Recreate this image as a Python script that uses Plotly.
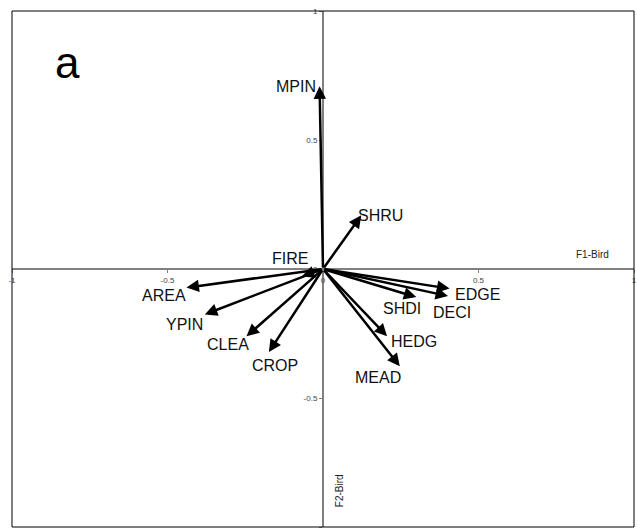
import plotly.graph_objects as go

# variable loadings on the first two factorial axes (bird data)
variables = ["MPIN", "SHRU", "FIRE", "AREA", "YPIN", "CLEA", "CROP",
             "EDGE", "DECI", "SHDI", "HEDG", "MEAD"]
f1 = [-0.011, 0.123, -0.068, -0.439, -0.380, -0.246, -0.174,
      0.407, 0.402, 0.300, 0.206, 0.247]
f2 = [0.708, 0.208, -0.028, -0.072, -0.176, -0.261, -0.322,
      -0.076, -0.105, -0.109, -0.261, -0.377]

tick_vals = [-1, -0.5, 0, 0.5, 1]
tick_text = ["-1", "-0.5", "0", "0.5", "1"]

# label offsets from arrow tips, in pixels (dx, dy up)
label_shift = {
    "MPIN": (-24, 0), "SHRU": (19, 0), "FIRE": (-12, 18), "AREA": (-22, -8),
    "YPIN": (-20, -10), "CLEA": (-18, -8), "CROP": (6, -13), "EDGE": (28, -6),
    "DECI": (4, -16), "SHDI": (-14, -11), "HEDG": (27, -5), "MEAD": (-22, -11),
}

FONT = "Liberation Sans, Arial, sans-serif"

fig = go.Figure()
# invisible trace so the axes get drawn
fig.add_trace(go.Scatter(x=[0], y=[0], mode="markers",
                         marker=dict(size=1, color="rgba(0,0,0,0)"),
                         showlegend=False, hoverinfo="skip"))

annotations = []
for name, x, y in zip(variables, f1, f2):
    annotations.append(dict(
        x=x, y=y, ax=0, ay=0, xref="x", yref="y", axref="x", ayref="y",
        text="", showarrow=True, arrowhead=2, arrowsize=1.0,
        arrowwidth=2.5, arrowcolor="black", standoff=0, startstandoff=0,
    ))
    dx, dy = label_shift[name]
    annotations.append(dict(
        x=x, y=y, xref="x", yref="y", text=name, showarrow=False,
        xshift=dx, yshift=dy, font=dict(family=FONT, size=16, color="#111"),
    ))

annotations += [
    dict(x=0.867, y=0.057, xref="x", yref="y", text="F1-Bird", showarrow=False,
         font=dict(family=FONT, size=10, color="#222")),
    dict(x=0.054, y=-0.858, xref="x", yref="y", text="F2-Bird", showarrow=False,
         textangle=-90, font=dict(family=FONT, size=10, color="#222")),
    dict(x=-0.821, y=0.80, xref="x", yref="y", text="a", showarrow=False,
         font=dict(family=FONT, size=44, color="black")),
]

axis_common = dict(
    range=[-1, 1], showgrid=False, zeroline=False,
    showline=True, linecolor="#808080", linewidth=2,
    tickvals=tick_vals, ticktext=tick_text, ticks="outside", ticklen=3,
    tickcolor="#808080", tickfont=dict(family=FONT, size=8, color="#444"),
    anchor="free", position=0.5, fixedrange=True, automargin=False,
)

fig.update_layout(
    width=637, height=530,
    margin=dict(l=12, r=3, t=11, b=3),
    paper_bgcolor="white", plot_bgcolor="white",
    xaxis=axis_common,
    yaxis=axis_common,
    annotations=annotations,
    shapes=[dict(type="rect", xref="paper", yref="paper", x0=0, y0=0, x1=1, y1=1,
                 line=dict(color="black", width=1))],
    showlegend=False,
)

fig.write_html("out.html", config={"displayModeBar": False},
               post_script="document.body.style.margin='0';")
